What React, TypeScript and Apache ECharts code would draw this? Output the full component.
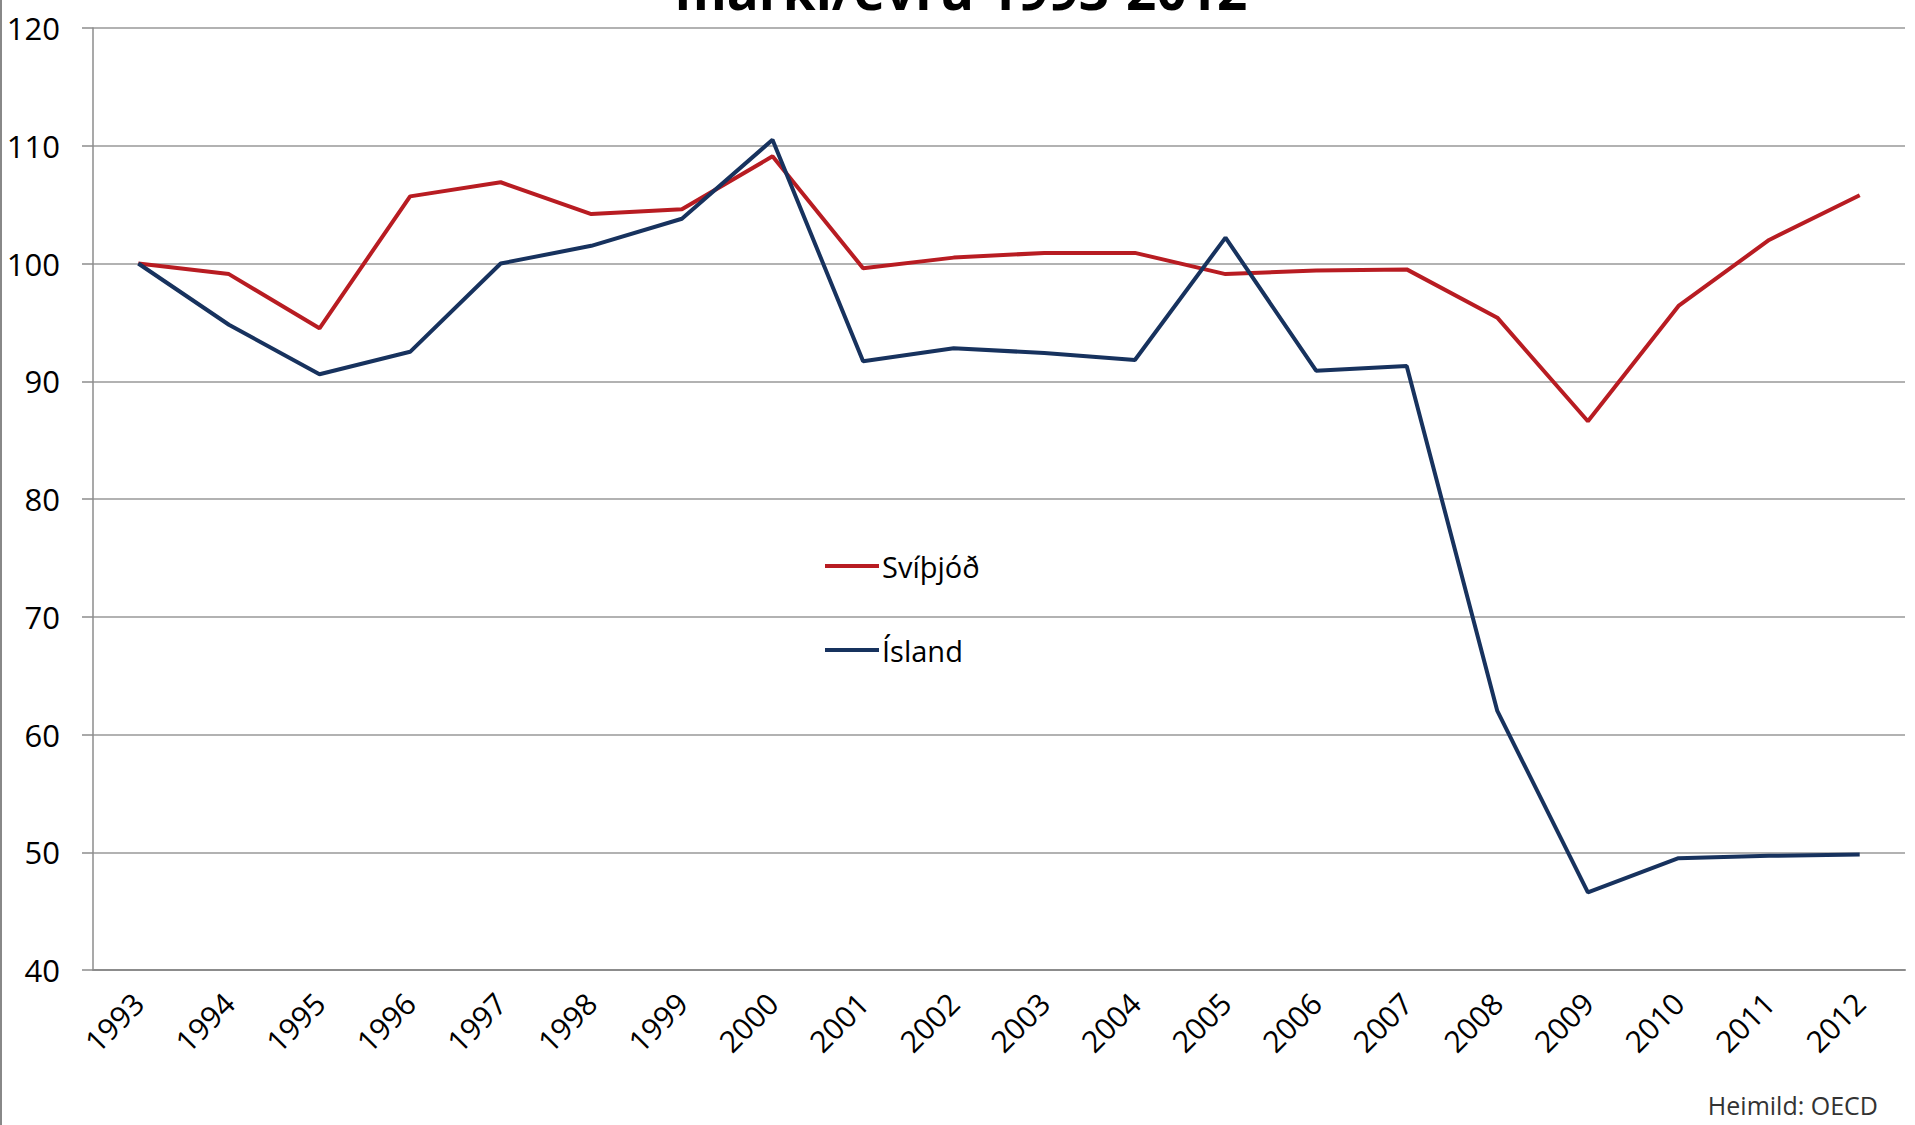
import React, { useEffect, useRef } from "react";
import * as echarts from "echarts";

const years = ["1993","1994","1995","1996","1997","1998","1999","2000","2001","2002","2003","2004","2005","2006","2007","2008","2009","2010","2011","2012"];
const svithjod = [100, 99.1, 94.5, 105.7, 106.9, 104.2, 104.6, 109.1, 99.6, 100.5, 100.9, 100.9, 99.1, 99.4, 99.5, 95.4, 86.6, 96.4, 102.0, 105.8];
const island = [100, 94.8, 90.6, 92.5, 100, 101.5, 103.8, 110.5, 91.7, 92.8, 92.4, 91.8, 102.2, 90.9, 91.3, 62.0, 46.6, 49.5, 49.7, 49.8];
const seriesNames = ["Svíþjóð", "Ísland"];
const titleText = "markí/evru 1993-2012";
const sourceText = "Heimild: OECD";

const FONT = "'Open Sans', 'Noto Sans', sans-serif";

export default function App() {
  const ref = useRef<HTMLDivElement>(null);
  useEffect(() => {
    if (!ref.current) return;
    const chart = echarts.init(ref.current, null, { renderer: "svg" });
    chart.setOption({
      animation: false,
      backgroundColor: "#ffffff",
      grid: { left: 93, right: 10, top: 28, bottom: 155, containLabel: false },
      legend: {
        orient: "vertical",
        left: 820,
        top: 546,
        icon: "rect",
        itemWidth: 54,
        itemHeight: 4,
        itemGap: 54,
        textStyle: { fontSize: 29, fontFamily: FONT, color: "#000", lineHeight: 30, padding: [0, 0, 0, -2] },
        data: seriesNames,
      },
      xAxis: {
        type: "category",
        data: years,
        boundaryGap: true,
        axisLine: { lineStyle: { color: "#8c8c8c", width: 2 } },
        axisTick: { length: 13, lineStyle: { color: "#8c8c8c", width: 1.5 } },
        axisLabel: { interval: 0, rotate: 45, margin: 28, fontSize: 30, fontFamily: FONT, color: "#000" },
        splitLine: { show: false },
      },
      yAxis: {
        type: "value",
        min: 40,
        max: 120,
        interval: 10,
        axisLine: { show: true, lineStyle: { color: "#8c8c8c", width: 1.5 } },
        axisTick: { show: true, length: 11, lineStyle: { color: "#8c8c8c", width: 1.5 } },
        axisLabel: { margin: 33, fontSize: 31, fontFamily: FONT, color: "#000" },
        splitLine: { lineStyle: { color: "#999999", width: 1.5 } },
      },
      series: [
        {
          name: seriesNames[0],
          type: "line",
          data: svithjod,
          symbol: "none",
          lineStyle: { color: "#B81C22", width: 4 },
          itemStyle: { color: "#B81C22" },
        },
        {
          name: seriesNames[1],
          type: "line",
          data: island,
          symbol: "none",
          lineStyle: { color: "#17325E", width: 4 },
          itemStyle: { color: "#17325E" },
        },
      ],
      graphic: [
        {
          type: "rect",
          left: 0,
          top: 0,
          shape: { width: 2, height: 1125 },
          style: { fill: "#888888" },
        },
        {
          type: "text",
          x: 961,
          y: 16,
          style: {
            text: titleText,
            fontSize: 53,
            fontWeight: "bold",
            fontFamily: FONT,
            fill: "#000",
            align: "center",
            verticalAlign: "bottom",
            lineHeight: 53,
          },
        },
        {
          type: "text",
          x: 1878,
          y: 1105,
          style: {
            text: sourceText,
            fontSize: 25,
            fontFamily: FONT,
            fill: "#333",
            align: "right",
            verticalAlign: "middle",
          },
        },
      ],
    });
    return () => chart.dispose();
  }, []);
  return (
    <div
      ref={ref}
      style={{ position: "fixed", left: 0, top: 0, width: 1915, height: 1125, background: "#fff" }}
    />
  );
}
